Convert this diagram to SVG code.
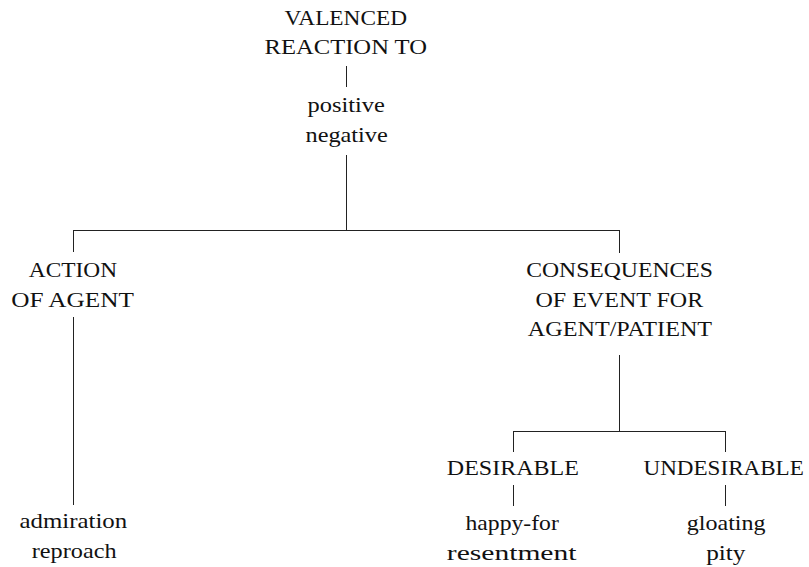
<svg xmlns="http://www.w3.org/2000/svg" width="809" height="567" viewBox="0 0 809 567">
<style>
.l{font-size:21px;fill:#111}
.c line{stroke:#222;stroke-width:1}
</style>
<rect width="809" height="567" fill="#fff"/>
<g class="c" id="connectors">
<line x1="346.5" y1="66" x2="346.5" y2="87"/>
<line x1="346.5" y1="155" x2="346.5" y2="230.5"/>
<line x1="73" y1="230.5" x2="620" y2="230.5"/>
<line x1="73.5" y1="230" x2="73.5" y2="252"/>
<line x1="73.5" y1="317" x2="73.5" y2="505"/>
<line x1="619.5" y1="230" x2="619.5" y2="253"/>
<line x1="619.5" y1="355" x2="619.5" y2="431.5"/>
<line x1="513" y1="431.5" x2="726" y2="431.5"/>
<line x1="513.5" y1="431" x2="513.5" y2="452"/>
<line x1="725.5" y1="431" x2="725.5" y2="452"/>
<line x1="513.5" y1="485" x2="513.5" y2="506"/>
<line x1="725.5" y1="485" x2="725.5" y2="506"/>
</g>
<g id="root">
<text class="l" style="font-family:'Liberation Serif'" x="284.5" y="24.5" textLength="122.5" lengthAdjust="spacingAndGlyphs">VALENCED</text>
<text class="l" style="font-family:'Liberation Serif'" x="264.5" y="53.5" textLength="162.5" lengthAdjust="spacingAndGlyphs">REACTION TO</text>
</g>
<g id="root-values">
<text class="l" style="font-family:'Liberation Serif'" x="307.5" y="112" textLength="77.3" lengthAdjust="spacingAndGlyphs">positive</text>
<text class="l" style="font-family:'Liberation Serif'" x="305.5" y="142" textLength="82.3" lengthAdjust="spacingAndGlyphs">negative</text>
</g>
<g id="action">
<text class="l" style="font-family:'Liberation Serif'" x="28.8" y="277.3" textLength="88.3" lengthAdjust="spacingAndGlyphs">ACTION</text>
<text class="l" style="font-family:'Liberation Serif'" x="11.2" y="307.3" textLength="122.7" lengthAdjust="spacingAndGlyphs">OF AGENT</text>
</g>
<g id="consequences">
<text class="l" style="font-family:'Liberation Serif'" x="526.2" y="276.7" textLength="186.7" lengthAdjust="spacingAndGlyphs">CONSEQUENCES</text>
<text class="l" style="font-family:'Liberation Serif'" x="535.5" y="306.7" textLength="167.7" lengthAdjust="spacingAndGlyphs">OF EVENT FOR</text>
<text class="l" style="font-family:'Liberation Serif'" x="527.8" y="336" textLength="184.3" lengthAdjust="spacingAndGlyphs">AGENT/PATIENT</text>
</g>
<g id="action-values">
<text class="l" style="font-family:'Liberation Serif'" x="19.5" y="528.3" textLength="107.7" lengthAdjust="spacingAndGlyphs">admiration</text>
<text class="l" style="font-family:'Liberation Serif'" x="31.8" y="558" textLength="84.7" lengthAdjust="spacingAndGlyphs">reproach</text>
</g>
<g id="desirable">
<text class="l" style="font-family:'Liberation Serif'" x="446.8" y="475" textLength="132" lengthAdjust="spacingAndGlyphs">DESIRABLE</text>
</g>
<g id="undesirable">
<text class="l" style="font-family:'Liberation Serif'" x="643.5" y="475" textLength="160.3" lengthAdjust="spacingAndGlyphs">UNDESIRABLE</text>
</g>
<g id="desirable-values">
<text class="l" style="font-family:'Liberation Serif'" x="465.5" y="530" textLength="93.3" lengthAdjust="spacingAndGlyphs">happy-for</text>
<text class="l" style="font-family:'Liberation Serif'" x="446.8" y="560" textLength="129.7" lengthAdjust="spacingAndGlyphs">resentment</text>
</g>
<g id="undesirable-values">
<text class="l" style="font-family:'Liberation Serif'" x="686.8" y="530" textLength="78.7" lengthAdjust="spacingAndGlyphs">gloating</text>
<text class="l" style="font-family:'Liberation Serif'" x="706.2" y="560" textLength="39.3" lengthAdjust="spacingAndGlyphs">pity</text>
</g>
</svg>
